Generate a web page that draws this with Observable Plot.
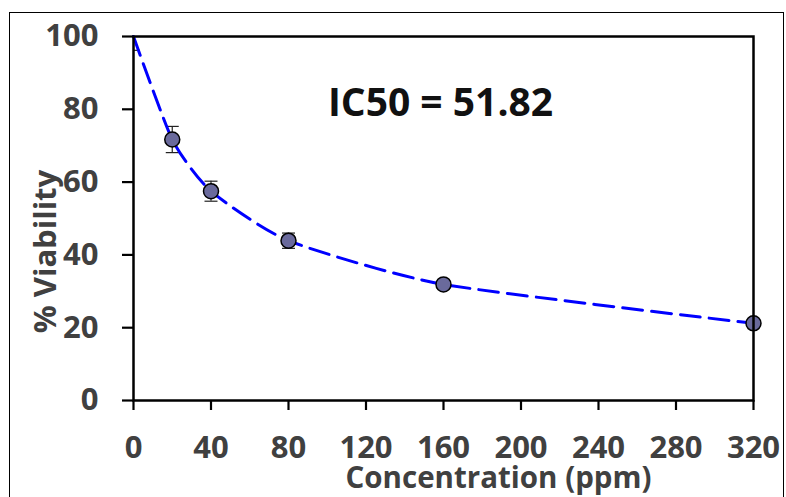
<!DOCTYPE html>
<html>
<head>
<meta charset="utf-8">
<script src="https://cdn.jsdelivr.net/npm/d3@7"></script>
<script src="https://cdn.jsdelivr.net/npm/@observablehq/plot@0.6"></script>
<style>
  html, body { margin: 0; padding: 0; background: #fff; overflow: hidden; }
  #wrap { position: relative; width: 786px; height: 497px; }
  #border { position: absolute; left: 9px; top: 12px; width: 775px; height: 500px;
            border: 1.5px solid #000; box-sizing: border-box; pointer-events: none; }
</style>
</head>
<body>
<div id="wrap"><div id="border"></div></div>
<script>
// Data
const concentration = [0, 20, 40, 80, 160, 320];
const viability     = [100, 71.7, 57.5, 43.9, 31.9, 21.2];
const errorSD       = [3.8, 3.6, 2.75, 2.1, 1.2, 0.9];
const xTicks = [0, 40, 80, 120, 160, 200, 240, 280, 320];
const yTicks = [0, 20, 40, 60, 80, 100];
const xTitle = ["Concentration (ppm)"];
const yTitle = ["% Viability"];
const annotation = ["IC50 = 51.82"];

const data = concentration.map((c, i) => ({conc: c, v: viability[i], sd: errorSD[i]}));

const capSymbol = {
  draw(ctx, size) {
    const r = Math.sqrt(size / Math.PI);
    ctx.moveTo(-r, 0);
    ctx.lineTo(r, 0);
  }
};

const chart = Plot.plot({
  width: 786,
  height: 497,
  marginTop: 36,
  marginRight: 33,
  marginBottom: 97,
  marginLeft: 133,
  style: {fontFamily: "'Open Sans', sans-serif", background: "transparent", overflow: "visible"},
  x: {domain: [0, 320], label: null},
  y: {domain: [0, 100], label: null},
  marks: [
    Plot.ruleX(data, {x: "conc", y1: d => d.v - d.sd, y2: d => d.v + d.sd, stroke: "#222", strokeWidth: 1.2, clip: true}),
    Plot.dot(data, {x: "conc", y: d => d.v - d.sd, symbol: capSymbol, r: 6.5, stroke: "#222", strokeWidth: 1.2, fill: "none", clip: true}),
    Plot.dot(data, {x: "conc", y: d => d.v + d.sd, symbol: capSymbol, r: 6.5, stroke: "#222", strokeWidth: 1.2, fill: "none", clip: true}),
    Plot.line(data, {x: "conc", y: "v", stroke: "#0000ff", strokeWidth: 3, strokeDasharray: "20,9", curve: "cardinal", tension: 0.4}),
    Plot.dot(data.filter(d => d.conc > 0), {x: "conc", y: "v", r: 7.5, fill: "#6a6a9c", stroke: "#000", strokeWidth: 1.5}),
    Plot.frame({stroke: "#000", strokeWidth: 2.5}),
    Plot.axisX({ticks: xTicks, tickSize: 10, tickPadding: 25, stroke: "#000", strokeWidth: 2.2, fill: "#404040", fontSize: 31, fontWeight: 700, label: null}),
    Plot.axisY({ticks: yTicks, tickSize: 11, tickPadding: 24, stroke: "#000", strokeWidth: 2.2, fill: "#404040", fontSize: 31, fontWeight: 700, label: null}),
    Plot.text(xTitle, {text: d => d, frameAnchor: "bottom", textAnchor: "middle", dx: 55, dy: 78, lineAnchor: "middle", fontSize: 29.5, fontWeight: 700, fill: "#404040"}),
    Plot.text(yTitle, {text: d => d, frameAnchor: "left", textAnchor: "middle", rotate: -90, dx: -87, dy: 33, lineAnchor: "middle", fontSize: 31, fontWeight: 700, fill: "#404040"}),
    Plot.text(annotation, {text: d => d, frameAnchor: "top", textAnchor: "middle", dx: -3, dy: 67, lineAnchor: "middle", fontSize: 39, fontWeight: 700, fill: "#111"})
  ]
});
document.getElementById("wrap").prepend(chart);
</script>
</body>
</html>
